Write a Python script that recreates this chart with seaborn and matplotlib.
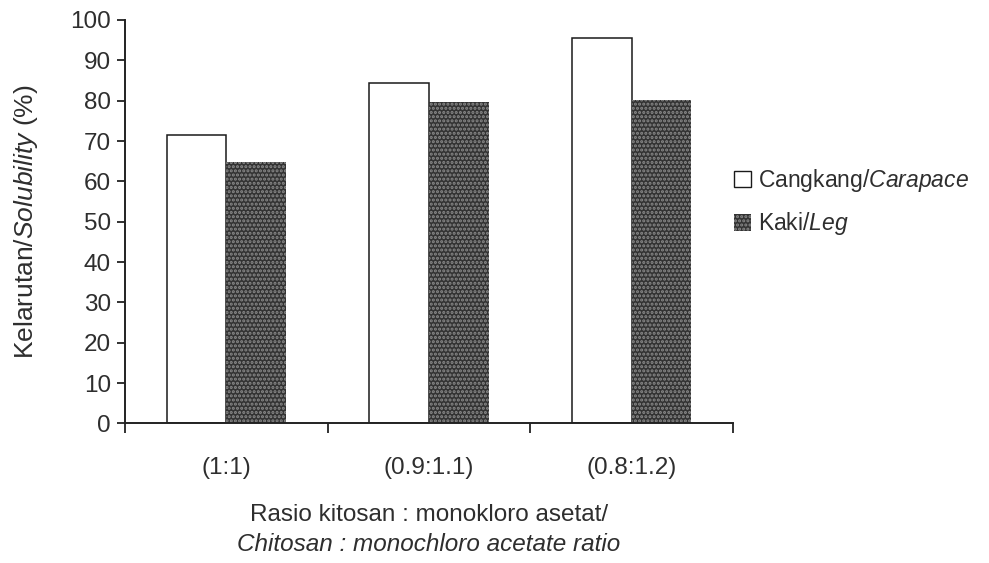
import matplotlib
matplotlib.use("Agg")
import matplotlib.pyplot as plt
import seaborn as sns
import pandas as pd

# Solubility (%) of carboxymethyl chitosan by chitosan : monochloro acetate ratio
ratios = ["(1:1)", "(0.9:1.1)", "(0.8:1.2)"]
carapace = [71.4, 84.5, 95.5]
leg = [64.9, 79.6, 80.1]
series_names = ["Cangkang/$\\it{Carapace}$", "Kaki/$\\it{Leg}$"]
y_ticks = list(range(0, 101, 10))

df = pd.DataFrame({
    "ratio": ratios * 2,
    "solubility": carapace + leg,
    "source": [series_names[0]] * 3 + [series_names[1]] * 3,
})

sns.set_theme(style="white")
plt.rcParams["font.family"] = ["Liberation Sans", "DejaVu Sans"]
plt.rcParams["mathtext.fontset"] = "custom"
plt.rcParams["mathtext.rm"] = "Liberation Sans"
plt.rcParams["mathtext.it"] = "Liberation Sans:italic"
plt.rcParams["hatch.linewidth"] = 1.5
text_color = "#2e2e2e"
fs = 17.5

fig = plt.figure(figsize=(9.89, 5.63), dpi=100)
ax = fig.add_axes([0.1264, 0.2478, 0.6146, 0.7167])

sns.barplot(data=df, x="ratio", y="solubility", hue="source", order=ratios,
            hue_order=series_names, palette=["white", "#3a3a3a"], width=0.59,
            saturation=1, errorbar=None, ax=ax, legend=True)

# Outline the carapace bars; stipple the leg bars
n = len(ratios)


def style_leg_patch(p):
    p.set_facecolor("#333333")
    p.set_edgecolor("#8a8a8a")
    p.set_hatch("....")
    p.set_linewidth(0)


for i, bar in enumerate(ax.patches[:2 * n]):
    if i < n:
        bar.set_edgecolor("#1a1a1a")
        bar.set_linewidth(1.1)
    else:
        style_leg_patch(bar)

ax.set_ylim(0, 100)
ax.set_xlim(-0.5, n - 0.5)
ax.set_yticks(y_ticks)
ax.set_yticklabels([str(t) for t in y_ticks], fontsize=fs, color=text_color)

# Tick marks at category boundaries, labels at category centres
ax.set_xticks([i - 0.5 for i in range(n + 1)])
ax.set_xticklabels([])
ax.set_xticks(list(range(n)), minor=True)
ax.set_xticklabels(ratios, minor=True, fontsize=fs, color=text_color)
ax.tick_params(axis="x", which="major", direction="out", length=7, width=1.3,
               color="#222222", bottom=True)
ax.tick_params(axis="x", which="minor", length=0, pad=24)
ax.tick_params(axis="y", direction="out", length=6, width=1.3,
               color="#222222", left=True, pad=4)

for side in ["top", "right"]:
    ax.spines[side].set_visible(False)
for side in ["left", "bottom"]:
    ax.spines[side].set_color("#222222")
    ax.spines[side].set_linewidth(1.4)

ax.set_xlabel("")
ax.set_ylabel("Kelarutan/$\\it{Solubility}$ (%)", fontsize=19, color=text_color,
              labelpad=22)

ax.text(0.5, -0.228, "Rasio kitosan : monokloro asetat/", transform=ax.transAxes,
        ha="center", va="center", fontsize=fs, color=text_color)
ax.text(0.5, -0.301, "Chitosan : monochloro acetate ratio", transform=ax.transAxes,
        ha="center", va="center", fontsize=fs, color=text_color, style="italic")

handles, labels = ax.get_legend_handles_labels()
lg = ax.legend(handles, labels, loc="center left", bbox_to_anchor=(0.733, 0.641),
               bbox_transform=fig.transFigure, frameon=False, fontsize=16.5,
               handlelength=0.75, handleheight=0.75, handletextpad=0.3,
               labelspacing=0.7, borderaxespad=0, labelcolor=text_color)
lg.legend_handles[0].set_edgecolor("#1a1a1a")
lg.legend_handles[0].set_linewidth(1.0)
style_leg_patch(lg.legend_handles[1])

fig.savefig("out.png", dpi=100)
